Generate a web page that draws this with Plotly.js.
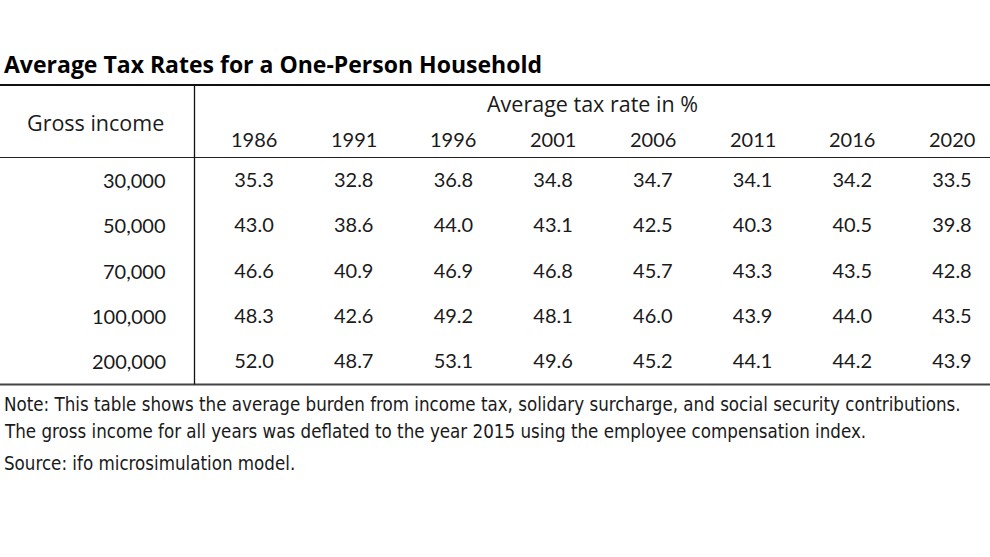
<!DOCTYPE html>
<html>
<head>
<meta charset="utf-8">
<script src="https://cdn.plot.ly/plotly-3.0.1.min.js"></script>
<style>html,body{margin:0;padding:0;background:#fff}#chart{width:990px;height:557px}</style>
</head>
<body>
<div id="chart"></div>
<script>
const years = ["1986", "1991", "1996", "2001", "2006", "2011", "2016", "2020"];
const incomes = ["30,000", "50,000", "70,000", "100,000", "200,000"];
const rate30k  = [35.3, 32.8, 36.8, 34.8, 34.7, 34.1, 34.2, 33.5];
const rate50k  = [43.0, 38.6, 44.0, 43.1, 42.5, 40.3, 40.5, 39.8];
const rate70k  = [46.6, 40.9, 46.9, 46.8, 45.7, 43.3, 43.5, 42.8];
const rate100k = [48.3, 42.6, 49.2, 48.1, 46.0, 43.9, 44.0, 43.5];
const rate200k = [52.0, 48.7, 53.1, 49.6, 45.2, 44.1, 44.2, 43.9];
const rows = [rate30k, rate50k, rate70k, rate100k, rate200k];

const titleText = "Average Tax Rates for a One-Person Household";
const rowHeader = "Gross income";
const colHeader = "Average tax rate in %";
const noteLines = [
  "Note: This table shows the average burden from income tax, solidary surcharge, and social security contributions.",
  "The gross income for all years was deflated to the year 2015 using the employee compensation index.",
  "Source: ifo microsimulation model."
];

const W = 990, H = 557;
const FONT = "Lato, 'Noto Sans', sans-serif";
const TFONT = "'Open Sans', Lato, sans-serif";
const NOTEFONT = "'DejaVu Sans Condensed', 'DejaVu Sans', sans-serif";
const INK = "#1a1a1a";
const py = p => 1 - p / H;
const px = p => p / W;

const traces = rows.map((vals, r) => ({
  type: "scatter",
  mode: "text",
  x: years,
  y: years.map(() => incomes[r]),
  text: vals.map(v => v.toFixed(1)),
  textposition: "middle center",
  textfont: {family: FONT, size: 20, color: INK},
  hoverinfo: "skip",
  showlegend: false
}));

const annotations = [];
annotations.push({xref: "paper", yref: "paper", x: px(2), y: py(64), xanchor: "left", yanchor: "middle",
  text: "<b>" + titleText + "</b>", showarrow: false, font: {family: TFONT, size: 23, color: "#000"}});
annotations.push({xref: "paper", yref: "paper", x: px(95), y: py(122), xanchor: "center", yanchor: "middle",
  text: rowHeader, showarrow: false, font: {family: TFONT, size: 21.5, color: INK}});
annotations.push({xref: "paper", yref: "paper", x: px(592), y: py(104), xanchor: "center", yanchor: "middle",
  text: colHeader, showarrow: false, font: {family: TFONT, size: 21.5, color: INK}});
years.forEach((yr, i) => annotations.push({xref: "x", yref: "paper", x: i, y: py(139), xanchor: "center", yanchor: "middle",
  text: yr, showarrow: false, font: {family: FONT, size: 20, color: INK}}));
incomes.forEach((inc, i) => annotations.push({xref: "paper", yref: "y", x: px(168), y: i, yshift: 2, xanchor: "right", yanchor: "middle",
  text: inc, showarrow: false, font: {family: FONT, size: 20, color: INK}}));
[404, 432, 463].forEach((yy, i) => annotations.push({xref: "paper", yref: "paper", x: px(2), y: py(yy), xanchor: "left", yanchor: "middle",
  text: noteLines[i], showarrow: false, font: {family: NOTEFONT, size: 18.6, color: INK}}));

const shapes = [
  {type: "line", xref: "paper", yref: "paper", x0: 0, x1: 1, y0: py(85), y1: py(85), line: {color: "#111", width: 2}},
  {type: "line", xref: "paper", yref: "paper", x0: 0, x1: 1, y0: py(157.5), y1: py(157.5), line: {color: "#222", width: 1.2}},
  {type: "line", xref: "paper", yref: "paper", x0: 0, x1: 1, y0: py(384.5), y1: py(384.5), line: {color: "#444", width: 2}},
  {type: "line", xref: "paper", yref: "paper", x0: px(194.5), x1: px(194.5), y0: py(85), y1: py(384.5), line: {color: "#111", width: 1.3}}
];

// column centres at 254 + 99.71*i px ; row centres at ~182 + 45.25*i px
const colStep = 99.71, col0 = 254;
const rowStep = 45.25, row0 = 182;
const axCommon = {showgrid: false, zeroline: false, showticklabels: false, showline: false, ticks: "", fixedrange: true};
const layout = {
  width: W, height: H,
  margin: {l: 0, r: 0, t: 0, b: 0},
  paper_bgcolor: "#fff", plot_bgcolor: "#fff",
  xaxis: Object.assign({type: "category", categoryarray: years, range: [-col0 / colStep, (W - col0) / colStep]}, axCommon),
  yaxis: Object.assign({type: "category", categoryarray: incomes, range: [(H - row0) / rowStep, -row0 / rowStep]}, axCommon),
  annotations: annotations,
  shapes: shapes,
  showlegend: false
};
Plotly.newPlot("chart", traces, layout, {staticPlot: true, displayModeBar: false});
</script>
</body>
</html>
